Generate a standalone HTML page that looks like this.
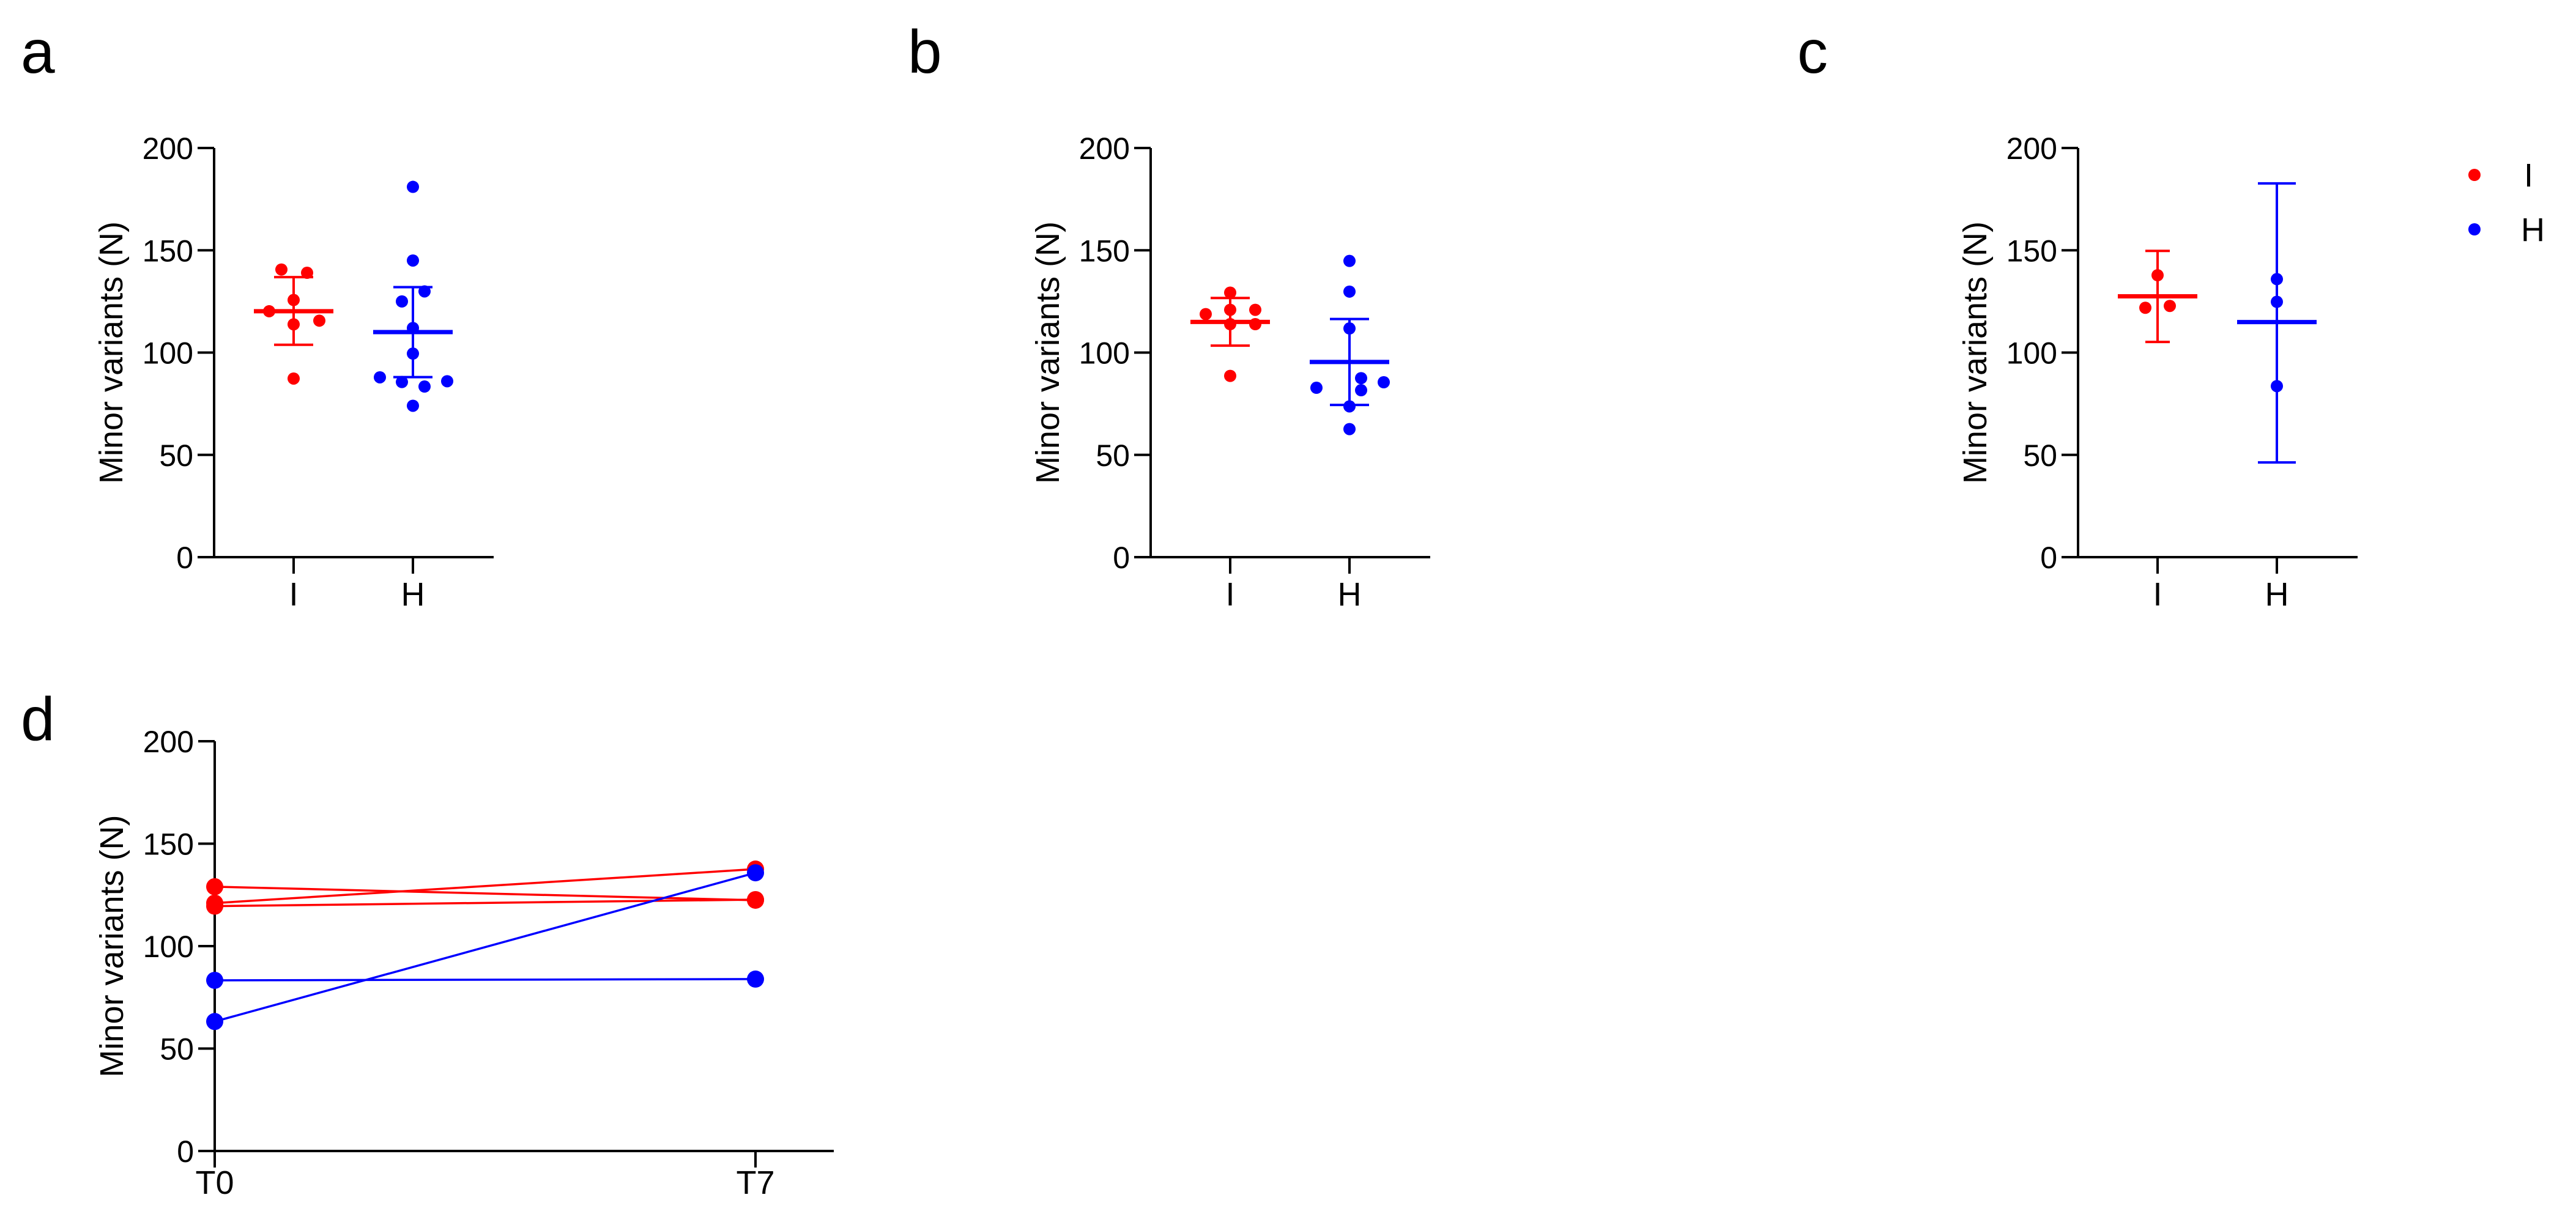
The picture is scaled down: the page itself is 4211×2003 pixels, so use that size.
<!DOCTYPE html>
<html><head><meta charset="utf-8"><style>
html,body{margin:0;padding:0;background:#fff;}
svg{display:block;font-family:"Liberation Sans",Arial,sans-serif;}
</style></head><body>
<svg id="fig" width="4211" height="2003" viewBox="0 0 4211 2003" xmlns="http://www.w3.org/2000/svg">
<text x="34" y="119" font-size="100">a</text>
<text x="1484" y="119" font-size="100">b</text>
<text x="2938" y="119" font-size="100">c</text>
<text x="34" y="1210" font-size="100">d</text>
<g>
<circle cx="4045" cy="286" r="10" fill="#ff0000"/>
<text x="4126" y="305" font-size="54">I</text>
<circle cx="4045" cy="375" r="10" fill="#0000ff"/>
<text x="4121" y="394" font-size="54">H</text>
</g>
</svg>
<script>
// ---- data ----
const yTicks = [0, 50, 100, 150, 200];
const groups = ["I", "H"];
const timepoints = ["T0", "T7"];
// panel a
const aIvals = [140.6, 139, 125.7, 120.2, 115.6, 113.8, 87.3];
const aIjit = [-20, 22, 0, -40, 42, 0, 0];
const aIstats = [120.2, 136.9, 103.8];
const aHvals = [181, 145, 129.9, 125, 112, 99.5, 87.9, 85.6, 83.4, 86, 74];
const aHjit = [0, 0, 19, -18, 0, 0, -54, -18, 19, 56, 0];
const aHstats = [110, 132, 88];
// panel b
const bIvals = [129.3, 118.8, 120.9, 120.9, 113.9, 113.9, 88.6];
const bIjit = [0, -40, 0, 41, 0, 41, 0];
const bIstats = [115, 126.7, 103.4];
const bHvals = [144.8, 129.8, 111.8, 87.5, 81.6, 82.8, 85.5, 73.7, 62.6];
const bHjit = [0, 0, 0, 19, 19, -54, 56, 0, 0];
const bHstats = [95.4, 116.4, 74.4];
// panel c
const cIvals = [137.8, 121.9, 122.8];
const cIjit = [0, -20, 20];
const cIstats = [127.5, 149.7, 105.2];
const cHvals = [135.9, 124.8, 83.6];
const cHjit = [0, 0, 0];
const cHstats = [114.9, 182.7, 46.3];
// panel d (paired T0 -> T7)
const dRedT0 = [129, 121, 119.5];
const dRedT7 = [122.4, 137.6, 122.7];
const dBlueT0 = [83.3, 63.2];
const dBlueT7 = [83.9, 135.8];

const NS = "http://www.w3.org/2000/svg";
const svg = document.getElementById("fig");
function mk(tag, attrs, parent){
  const e = document.createElementNS(NS, tag);
  for (const k in attrs) e.setAttribute(k, attrs[k]);
  (parent||svg).appendChild(e);
  return e;
}
const RED = "#ff0000", BLUE = "#0000ff";

function axes(g, ax, yTop, yBot, xEnd, catX, catLabels, tickBot, labBase){
  const ys = v => yBot - (v/200)*(yBot-yTop);
  const yl = mk("line", {x1:ax, y1:yTop, x2:ax, y2:yBot, stroke:"#000", "stroke-width":4}, g);
  
  
  const xl = mk("line", {x1:ax-27, y1:yBot, x2:xEnd, y2:yBot, stroke:"#000", "stroke-width":4}, g);
  
  
  yTicks.forEach(t => {
    const y = ys(t);
    const tl = mk("line", {x1:ax-27, y1:y, x2:ax, y2:y, stroke:"#000", "stroke-width":4}, g);
    
    
    const tx = mk("text", {x:ax-34, y:y+18, "font-size":50, "text-anchor":"end"}, g);
    
    
    tx.textContent = t;
  });
  catX.forEach((x, i) => {
    const tl = mk("line", {x1:x, y1:yBot, x2:x, y2:tickBot, stroke:"#000", "stroke-width":4}, g);
    
    
    const tx = mk("text", {x:x, y:labBase, "font-size":54, "text-anchor":"middle"}, g);
    
    
    tx.textContent = catLabels[i];
  });
  const cy = (yTop+yBot)/2, tX = ax-150;
  const tt = mk("text", {x:tX, y:cy, "font-size":54, "text-anchor":"middle", transform:`rotate(-90 ${tX} ${cy})`}, g);
  
  
  tt.textContent = "Minor variants (N)";
  return ys;
}

function group(g, ys, cx, vals, jit, stats, color, cap){
  vals.forEach((v, i) => {
    const c = mk("circle", {cx:cx+jit[i], cy:ys(v), r:10, fill:color}, g);
    
    
  });
  const [m, hi, lo] = stats;
  const e = mk("line", {x1:cx, y1:ys(hi), x2:cx, y2:ys(lo), stroke:color, "stroke-width":4}, g);
  
  
  [hi, lo].forEach(v => {
    const cp = mk("line", {x1:cx-cap, y1:ys(v), x2:cx+cap, y2:ys(v), stroke:color, "stroke-width":4}, g);
    
    
  });
  const ml = mk("line", {x1:cx-65, y1:ys(m), x2:cx+65, y2:ys(m), stroke:color, "stroke-width":7}, g);
  
  
}

function scatterPanel(name, ax, I, Ij, Is, H, Hj, Hs, capI, capH){
  const g = mk("g", {});
  
  
  const catX = [ax+130, ax+325];
  const ys = axes(g, ax, 242, 911, ax+457, catX, groups, 938, 990);
  group(g, ys, catX[0], I, Ij, Is, RED, capI);
  group(g, ys, catX[1], H, Hj, Hs, BLUE, capH);
}
scatterPanel("panel-a", 350, aIvals, aIjit, aIstats, aHvals, aHjit, aHstats, 32, 32);
scatterPanel("panel-b", 1881, bIvals, bIjit, bIstats, bHvals, bHjit, bHstats, 32, 32);
scatterPanel("panel-c", 3397, cIvals, cIjit, cIstats, cHvals, cHjit, cHstats, 20, 31);

// panel d
(function(){
  const g = mk("g", {});
  
  
  const catX = [351, 1235];
  const ys = axes(g, 351, 1212, 1882, 1363, catX, timepoints, 1909, 1952);
  function pairs(a0, a7, color){
    a0.forEach((v, i) => {
      const l = mk("line", {x1:catX[0], y1:ys(v), x2:catX[1], y2:ys(a7[i]), stroke:color, "stroke-width":3.5}, g);
      
      
    });
    a0.forEach((v, i) => {
      [[catX[0], v], [catX[1], a7[i]]].forEach(p => {
        const c = mk("circle", {cx:p[0], cy:ys(p[1]), r:14, fill:color}, g);
        
        
      });
    });
  }
  pairs(dRedT0, dRedT7, RED);
  pairs(dBlueT0, dBlueT7, BLUE);
})();
</script>
</body></html>
